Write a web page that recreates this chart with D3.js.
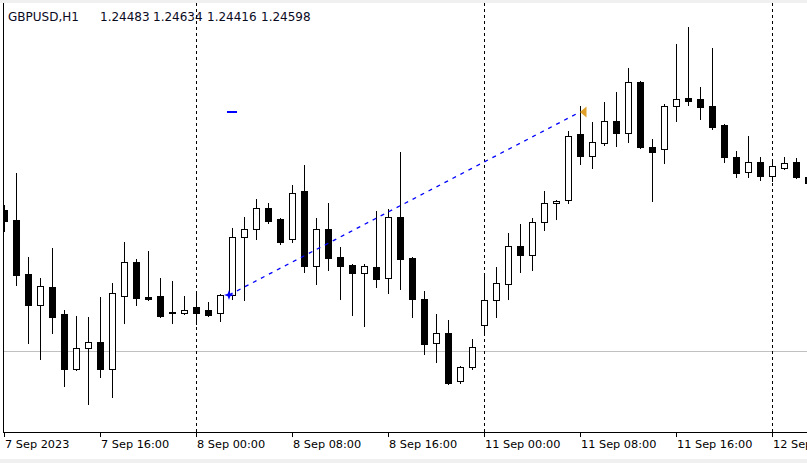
<!DOCTYPE html>
<html><head><meta charset="utf-8">
<script src="https://cdn.jsdelivr.net/npm/d3@7"></script>
<style>html,body{margin:0;padding:0;background:#f0f0f0;overflow:hidden}</style>
</head><body>
<svg id="c" width="807" height="463"></svg>
<script>
// ---- data (GBPUSD H1, bar 0 = 7 Sep 08:00) ----
const symbolTitle = "GBPUSD,H1";
const headerValues = ["1.24483", "1.24634", "1.24416", "1.24598"];
const openP  = [1.25075,1.2505,1.24915,1.248375,1.248825,1.24815,1.246775,1.2473,1.24745,1.246775,
                1.2486,1.24945,1.248575,1.2486,1.2482,1.248175,1.248325,1.24825,1.248175,1.248625,
                1.250075,1.250275,1.2508,1.250525,1.250025,1.251225,1.24935,1.250275,1.249575,1.249375,
                1.249175,1.249325,1.24905,1.250575,1.24955,1.248525,1.247425,1.247675,1.246475,1.246825,
                1.247875,1.2485,1.2489,1.24985,1.249625,1.25045,1.250925,1.251,1.25265,1.2521,
                1.252425,1.252975,1.252675,1.25395,1.252325,1.252275,1.25335,1.25355,1.253525,1.25335,
                1.252875,1.252075,1.2517,1.25195,1.2516,1.2518,1.25195,1.251575];
const highP  = [1.250875,1.251675,1.249575,1.24905,1.2498,1.24825,1.2481,1.248075,1.248575,1.248925,
                1.24995,1.249525,1.249725,1.24905,1.248975,1.2486,1.248675,1.24845,1.24865,1.2503,
                1.250575,1.251025,1.250925,1.25055,1.251375,1.251875,1.25055,1.250925,1.249825,1.2494,
                1.2494,1.250725,1.250775,1.2522,1.249575,1.248725,1.24815,1.248,1.24685,1.247525,
                1.249125,1.249325,1.250175,1.2504,1.25055,1.251225,1.251,1.252725,1.25335,1.25295,
                1.25345,1.2537,1.2543,1.253975,1.252525,1.2534,1.2549,1.255325,1.253825,1.2548,
                1.2529,1.252225,1.2526,1.252075,1.25195,1.252075,1.25205,1.251625];
const lowP   = [1.250225,1.248875,1.247425,1.247025,1.247675,1.24635,1.24675,1.2459,1.246575,1.246075,
                1.247925,1.248375,1.2485,1.248075,1.247925,1.24815,1.2479,1.2481,1.247975,1.248525,
                1.2485,1.250025,1.250425,1.2499,1.24995,1.2492,1.2489,1.24925,1.248525,1.248125,
                1.24785,1.248825,1.248675,1.248775,1.248075,1.24715,1.24695,1.2464,1.246425,1.246775,
                1.247625,1.248075,1.248525,1.2492,1.24925,1.25025,1.250525,1.250925,1.2519,1.2518,
                1.252375,1.25235,1.25245,1.2523,1.250975,1.251925,1.252975,1.253375,1.253025,1.252775,
                1.25195,1.251575,1.251575,1.2515,1.251475,1.251775,1.25155,1.251375];
const closeP = [1.250475,1.249125,1.248375,1.24885,1.248075,1.246775,1.2473,1.24745,1.246775,1.248675,
                1.24945,1.24855,1.248525,1.2481,1.248175,1.24825,1.248175,1.248125,1.248625,1.250075,
                1.250275,1.2508,1.250475,1.24995,1.251175,1.24935,1.250275,1.24955,1.24935,1.249175,
                1.24935,1.249025,1.250575,1.249525,1.248525,1.2474,1.247675,1.246425,1.246825,1.247325,
                1.2485,1.248925,1.24985,1.249625,1.25045,1.250925,1.250975,1.2526,1.2521,1.25245,
                1.252975,1.252675,1.25395,1.252325,1.2522,1.25335,1.253525,1.253475,1.253325,1.252825,
                1.252075,1.251675,1.25195,1.2516,1.25185,1.251925,1.251575,1.251425];
const tickBars   = [0, 8, 16, 24, 32, 40, 48, 56, 64];
const tickLabels = ["7 Sep 2023","7 Sep 16:00","8 Sep 00:00","8 Sep 08:00","8 Sep 16:00",
                    "11 Sep 00:00","11 Sep 08:00","11 Sep 16:00","12 Sep 00:00"];
const separatorBars = [16, 40, 64];
const horizontalLinePrice = 1.247225;
const trendBars   = [18.75, 48];
const trendPrices = [1.248625, 1.2532];
const markerBar = 19, markerPrice = 1.2532;

// ---- layout ----
const W = 807, H = 463;
const plot = {left: 3, top: 3, right: 807, bottom: 432};
const svg = d3.select("#c");
const x = d3.scaleLinear().domain([0, 67]).range([4, 808]);
const y = d3.scaleLinear().domain([1.256 - 0.000025 * 431, 1.256]).range([431, 0]);

svg.append("rect").attr("x", 0).attr("y", 0).attr("width", W).attr("height", H).attr("fill", "#f0f0f0");
svg.append("rect").attr("x", 0).attr("y", 3).attr("width", W).attr("height", 456).attr("fill", "#ffffff");

svg.append("defs").append("clipPath").attr("id", "pc").append("rect")
  .attr("x", plot.left).attr("y", plot.top).attr("width", plot.right - plot.left).attr("height", plot.bottom - plot.top);
const g = svg.append("g").attr("clip-path", "url(#pc)");

// horizontal line
const hy = Math.round(y(horizontalLinePrice)) + 0.5;
g.append("line").attr("x1", plot.left).attr("x2", plot.right).attr("y1", hy).attr("y2", hy)
  .attr("stroke", "#c0c0c0").attr("stroke-width", 1);

// day separators
g.selectAll(".sep").data(separatorBars).join("line").attr("class", "sep")
  .attr("x1", d => Math.round(x(d)) + 0.5).attr("x2", d => Math.round(x(d)) + 0.5)
  .attr("y1", plot.top).attr("y2", plot.bottom)
  .attr("stroke", "#000").attr("stroke-width", 1).attr("stroke-dasharray", "3,3");

// candles
const bars = d3.range(openP.length).map(i => ({i, o: openP[i], h: highP[i], l: lowP[i], c: closeP[i]}));
const cg = g.selectAll(".candle").data(bars).join("g").attr("class", "candle");
cg.append("line")
  .attr("x1", d => Math.round(x(d.i)) + 0.5).attr("x2", d => Math.round(x(d.i)) + 0.5)
  .attr("y1", d => Math.round(y(d.h))).attr("y2", d => Math.round(y(d.l)) + 1)
  .attr("stroke", "#000").attr("stroke-width", 1);
cg.append("rect")
  .attr("x", d => Math.round(x(d.i)) - 2.5)
  .attr("y", d => Math.round(y(Math.max(d.o, d.c))) + 0.5)
  .attr("width", 6)
  .attr("height", d => Math.max(1, Math.round(y(Math.min(d.o, d.c))) - Math.round(y(Math.max(d.o, d.c)))))
  .attr("fill", d => d.c >= d.o ? "#ffffff" : "#000000")
  .attr("stroke", "#000").attr("stroke-width", 1);

// trend line
const tx0 = x(trendBars[0]), ty0 = y(trendPrices[0]), tx1 = x(trendBars[1]), ty1 = y(trendPrices[1]);
g.append("line").attr("x1", tx0).attr("y1", ty0).attr("x2", tx1).attr("y2", ty1)
  .attr("stroke", "#0000ff").attr("stroke-width", 1.3).attr("stroke-dasharray", "4,5");
// start star
const star = d3.range(8).map(k => {
  const a = k * Math.PI / 4 - Math.PI / 2, r = k % 2 ? 1.8 : 5;
  return [tx0 + r * Math.cos(a), ty0 + r * Math.sin(a)];
});
g.append("path").attr("d", d3.line()(star) + "Z").attr("fill", "#0000ff");
// end arrow
g.append("path").attr("d", d3.line()([[tx1, ty1], [tx1 + 6.5, ty1 - 5.5], [tx1 + 6.5, ty1 + 5.5]]) + "Z")
  .attr("fill", "#e0a028");
// small marker dash
const my = y(markerPrice);
g.append("rect").attr("x", Math.round(x(markerBar)) - 5).attr("y", Math.round(my) - 1)
  .attr("width", 10).attr("height", 2).attr("fill", "#0000ff");

// frame / axis
svg.append("line").attr("x1", 3.5).attr("x2", 3.5).attr("y1", plot.top).attr("y2", plot.bottom + 1)
  .attr("stroke", "#000").attr("stroke-width", 1);
svg.append("line").attr("x1", 3).attr("x2", W).attr("y1", plot.bottom + 0.5).attr("y2", plot.bottom + 0.5)
  .attr("stroke", "#000").attr("stroke-width", 1);

const ax = svg.append("g");
ax.selectAll("line").data(tickBars).join("line")
  .attr("x1", d => Math.round(x(d)) + 0.5).attr("x2", d => Math.round(x(d)) + 0.5)
  .attr("y1", plot.bottom).attr("y2", plot.bottom + 5)
  .attr("stroke", "#000").attr("stroke-width", 1);
ax.selectAll("text").data(tickBars).join("text")
  .attr("x", d => Math.round(x(d)) + 1).attr("y", 448)
  .attr("font-family", "DejaVu Sans").attr("font-size", "11.3px").attr("fill", "#000")
  .text((d, k) => tickLabels[k]);

// header
const ht = svg.append("text").attr("y", 21).attr("font-family", "DejaVu Sans").attr("font-size", "12px").attr("fill", "#0a0a1e");
ht.append("tspan").attr("x", 8).text(symbolTitle);
const hx = [100, 153, 207, 261];
headerValues.forEach((v, k) => ht.append("tspan").attr("x", hx[k]).text(v));
</script>
</body></html>
